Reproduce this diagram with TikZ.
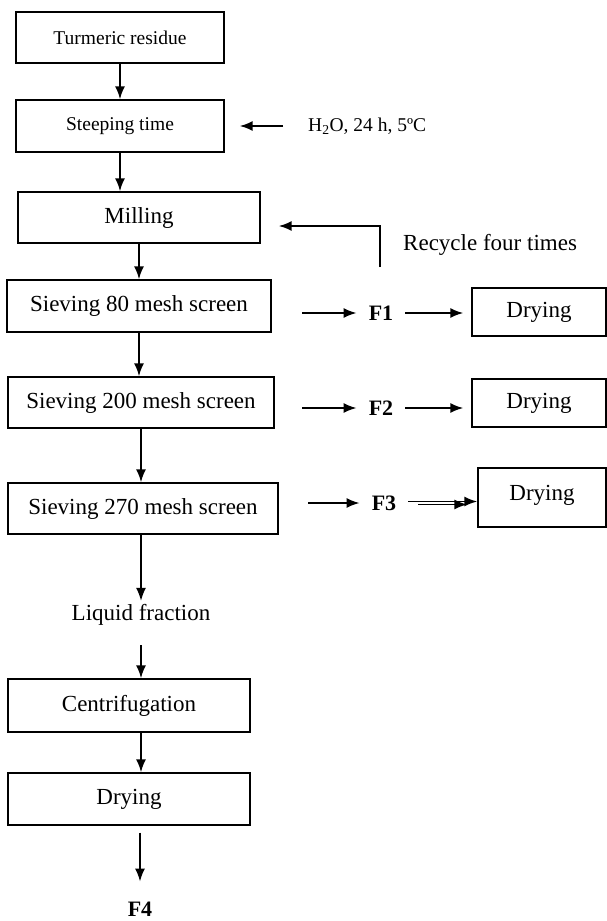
\documentclass[tikz,border=0pt]{standalone}
\usepackage{fontspec}
\setmainfont{Liberation Serif}
\usetikzlibrary{arrows.meta}
\usetikzlibrary{shapes}

\begin{document}
\begin{tikzpicture}
      [x=1pt,y=-1pt,
        box/.style={draw, line width=1.4pt, inner sep=0pt, font=\fontsize{23}{27}\selectfont},
          smallbox/.style={box, font=\fontsize{19.5}{23}\selectfont},
        flow/.style={-{Latex[length=13pt,width=10pt]}, line width=1.8pt},
          frac/.style={font=\fontsize{22}{26}\selectfont\bfseries, inner sep=12pt},
        note/.style={font=\fontsize{23}{27}\selectfont}]
  \useasboundingbox (0,0) rectangle (607,921);
  \node[smallbox, minimum width=208pt, minimum height=51pt] (tr) at (120,37.5) {Turmeric residue};
  \node[smallbox, minimum width=208pt, minimum height=52pt] (st) at (120,126) {Steeping time};
  \node[box, minimum width=242pt, minimum height=51pt] (mi) at (139,217.5) {Milling};
  \node[box, minimum width=264pt, minimum height=52pt] (s80) at (139,306) {Sieving 80 mesh screen};
  \node[box, minimum width=266pt, minimum height=51pt] (s200) at (141,402.5) {Sieving 200 mesh screen};
  \node[box, minimum width=270pt, minimum height=51pt] (s270) at (143,508.5) {Sieving 270 mesh screen};
  \node[note] (lf) at (141,615) {Liquid fraction};
  \node[box, minimum width=242pt, minimum height=53pt] (ce) at (129,705.5) {Centrifugation};
  \node[box, minimum width=242pt, minimum height=52pt] (dr) at (129,799) {Drying};
  \node[frac, inner sep=0pt] (f4) at (140,909) {F4};

  \node[anchor=west, inner sep=0pt, font=\fontsize{19.5}{23}\selectfont] (h2o) at (308,126) {H\textsubscript{2}O, 24 h, 5ºC};
  \node[note, anchor=west, inner sep=0pt] (rcy) at (403,245) {Recycle four times};
  \coordinate (rc) at (380,267);

  \node[frac] (f1) at (381,313) {F1};
  \node[box, minimum width=134pt, minimum height=48pt] (d1) at (539,312) {Drying};
  \coordinate (a1) at (302,313);
  \node[frac] (f2) at (381,408) {F2};
  \node[box, minimum width=134pt, minimum height=48pt] (d2) at (539,403) {Drying};
  \coordinate (a2) at (302,408);
  \node[frac] (f3) at (384,503) {F3};
  \node[box, minimum width=128pt, minimum height=59pt, text depth=10pt] (d3) at (542,497.5) {Drying};
  \coordinate (a3) at (308,503);

  \draw[flow] (tr) -- (st);
  \draw[flow] (st.south) -- (st.south |- mi.north);
  \draw[flow] (mi) -- (s80);
  \draw[flow] (s80.south) -- (s80.south |- s200.north);
  \draw[flow] (s200.south) -- (s200.south |- s270.north);
  \draw[flow] (lf.north |- s270.south) -- (lf.north);
  \draw[flow, shorten <=16pt] (lf.south) -- (lf.south |- ce.north);
  \draw[flow] ([xshift=12pt]ce.south) -- ([xshift=12pt]dr.north);
  \draw[flow, shorten <=7pt, shorten >=20pt] (dr.south -| f4) -- (f4.north);

  \draw[flow] ([xshift=-25pt]h2o.west) -- ([xshift=15pt]st.east);
  \draw[flow] (rc) |- ([xshift=18pt,yshift=-8.5pt]mi.east);

  \draw[flow] (a1) -- (f1);
  \draw[flow, shorten >=8pt] (f1) -- (f1 -| d1.west);
  \draw[flow] (a2) -- (f2);
  \draw[flow, shorten >=8pt] (f2) -- (f2 -| d2.west);
  \draw[flow] (a3) -- (f3);
  \draw[flow] ([yshift=1.5pt]f3.east) -- ([yshift=1.5pt]f3.east -| d3.west);
  \draw[flow, shorten >=10pt] ([xshift=10pt,yshift=-1.5pt]f3.east) -- ([yshift=-1.5pt]f3.east -| d3.west);
\end{tikzpicture}
\end{document}
